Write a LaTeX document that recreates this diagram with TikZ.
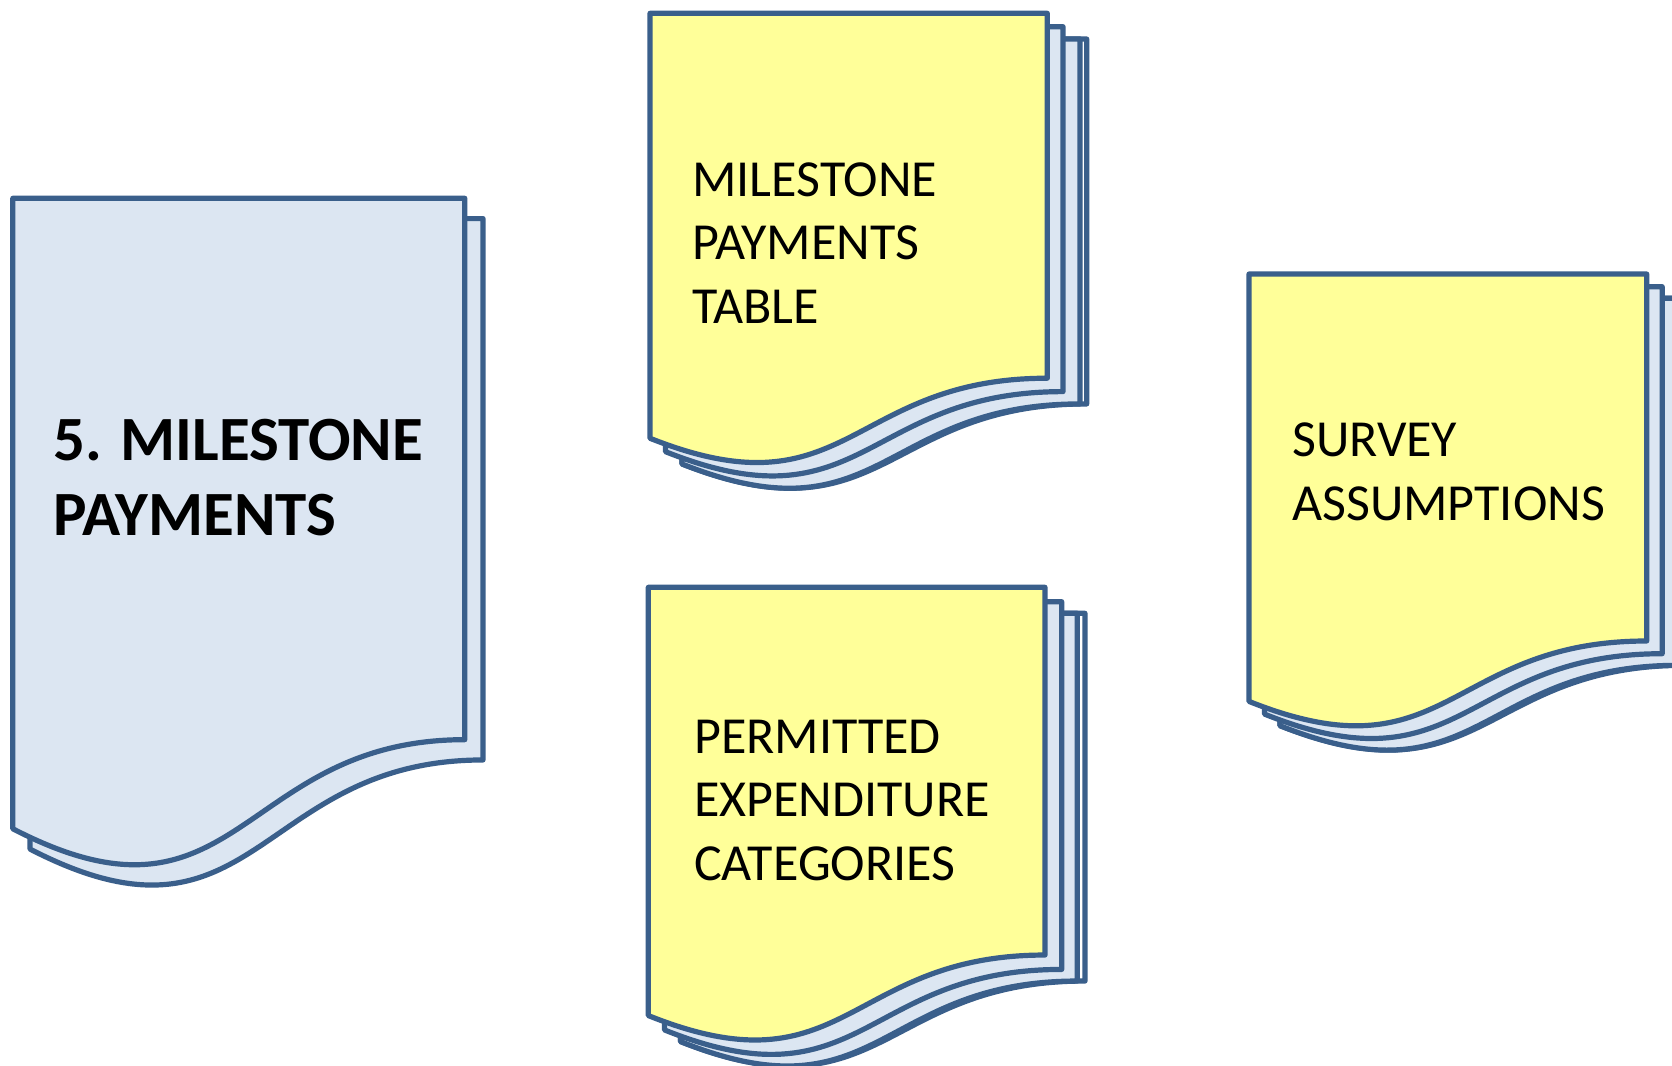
\documentclass[tikz,border=0pt]{standalone}
\usepackage{fontspec}
\setmainfont{Carlito}
\definecolor{edgeblue}{HTML}{3A5F8B}
\definecolor{pageblue}{HTML}{DCE6F2}
\definecolor{noteyellow}{HTML}{FFFF99}
\tikzset{
  docline/.style={draw=edgeblue, line width=5.2pt, line join=round},
  notetext/.style={anchor=base west, inner sep=0pt, font=\fontsize{52}{63}\selectfont},
  titletext/.style={anchor=base west, inner sep=0pt, font=\fontsize{63}{75}\selectfont\bfseries}
}
% x y w h fill  (flowchart document shape, y downwards)
\newcommand\docpage[5]{%
  \path[docline, fill=#5] (#1,#2) -- ({#1+#3},#2) -- ({#1+#3},{#2+0.802*#4})
    .. controls ({#1+0.5*#3},{#2+0.802*#4}) and ({#1+0.5*#3},{#2+1.1075*#4}) ..
    (#1,{#2+0.934*#4}) -- cycle;}
\begin{document}
\begin{tikzpicture}[x=1pt,y=-1pt]
\useasboundingbox (0,0) rectangle (1672,1065);
\clip (0,0) rectangle (1672,1065);
\fill[white] (0,0) rectangle (1672,1065);

% left stack: 5. MILESTONE PAYMENTS
\docpage{30}{218.6}{453}{675}{pageblue}
\docpage{12.8}{198.3}{452}{675}{pageblue}
\node[titletext] (mainA) at (53,460.6) {5. MILESTONE};
\node[titletext] (mainB) at (53,535.3) {PAYMENTS};

% top middle stack
\docpage{682}{39}{404.7}{455}{white}
\docpage{682}{39}{398}{455}{pageblue}
\docpage{665.5}{26.7}{397.5}{455}{pageblue}
\docpage{650}{13.3}{397.3}{455}{noteyellow}
\node[notetext] (tabA) at (692,196) {MILESTONE};
\node[notetext] (tabB) at (692,259.5) {PAYMENTS};
\node[notetext] (tabC) at (692,323) {TABLE};

% bottom middle stack
\docpage{680.5}{613.3}{404.5}{458.5}{white}
\docpage{680.5}{613.3}{396.8}{458.5}{pageblue}
\docpage{664.5}{601.7}{397.2}{458.5}{pageblue}
\docpage{648.3}{587.3}{396.7}{458.5}{noteyellow}
\node[notetext] (perA) at (694,753.3) {PERMITTED};
\node[notetext] (perB) at (694,816.7) {EXPENDITURE};
\node[notetext] (perC) at (694,880) {CATEGORIES};

% right stack
\docpage{1280}{298.3}{405}{457.6}{white}
\docpage{1280}{298.3}{398}{457.6}{pageblue}
\docpage{1264.5}{286.7}{397.7}{457.6}{pageblue}
\docpage{1249}{274}{397.7}{457.6}{noteyellow}
\node[notetext] (surA) at (1292,456.7) {SURVEY};
\node[notetext] (surB) at (1292,520) {ASSUMPTIONS};
\end{tikzpicture}
\end{document}
